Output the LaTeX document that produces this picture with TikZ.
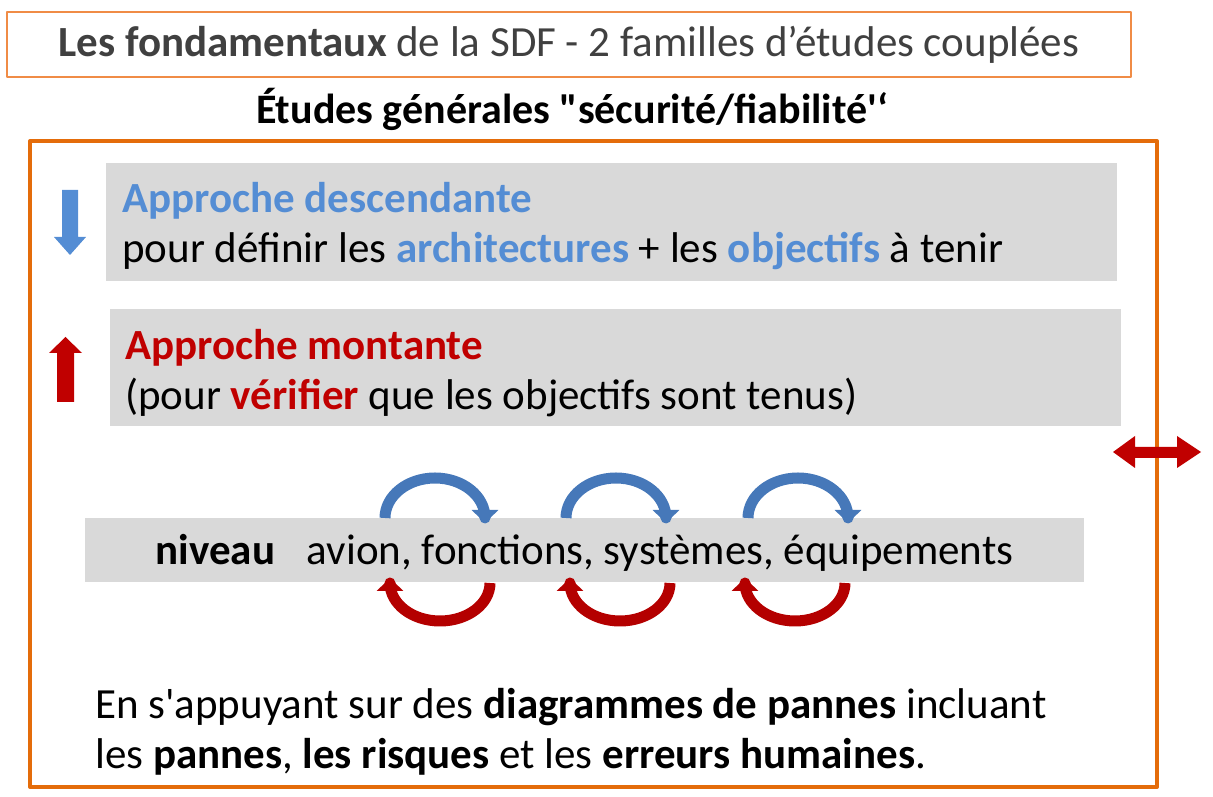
\documentclass[tikz,border=0pt]{standalone}
\usepackage{fontspec}
\setmainfont{Carlito}
\usetikzlibrary{arrows.meta}
\definecolor{cadre}{RGB}{228,108,10}
\definecolor{cadreT}{RGB}{240,140,70}
\definecolor{gris}{RGB}{217,217,217}
\definecolor{bleu}{RGB}{84,141,212}
\definecolor{bleuF}{RGB}{70,120,185}
\definecolor{rouge}{RGB}{192,0,0}
\definecolor{rougeF}{RGB}{180,0,0}
\definecolor{texte}{RGB}{64,64,64}
\tikzset{
	boite/.style={fill=gris, inner sep=0pt},
	txt/.style={anchor=west, align=left, inner sep=0pt, font=\fontsize{43}{50}\selectfont},
	fleche/.style={line width=11pt, -{Triangle[width=26pt,length=13pt]}}
}
\begin{document}
\begin{tikzpicture}[x=1pt,y=1pt,line join=round]
		\useasboundingbox (0,0) rectangle (1213,797);
		%==titre
		\node[draw=cadreT, line width=1.2pt, minimum width=1124pt, minimum height=65pt, text=texte, font=\fontsize{43}{50}\selectfont] (titre) at (569,752.5) {\textbf{Les fondamentaux} de la SDF - 2 familles d’études couplées};
		\node[font=\bfseries\fontsize{42}{48}\selectfont] (sstitre) at (572,688) {Études générales \textquotedbl sécurité/fiabilité\textquotesingle‘};
		%==cadre
		\draw[cadre, line width=4pt] (30,10) rectangle (1157,656);
		\fill[rouge] (1113,345) --(1135,361) --(1135,350) --(1177,350) --(1177,361) --(1201,345) --(1177,329) --(1177,339) --(1135,339) --(1135,329) -- cycle;
		%==approches
		\node[boite, minimum width=1011pt, minimum height=118pt] (desc) at (611.5,575) {};
		\node[txt] (descT) at (122,571) {\textcolor{bleu}{\textbf{Approche descendante}}\\pour définir les \textcolor{bleu}{\textbf{architectures}} + les \textcolor{bleu}{\textbf{objectifs}} à tenir};
		\node[boite, minimum width=1011pt, minimum height=117pt] (mont) at (615.5,429.5) {};
		\node[txt] (montT) at (125,424) {\textcolor{rouge}{\textbf{Approche montante}}\\(pour \textcolor{rouge}{\textbf{vérifier}} que les objectifs sont tenus)};
		\fill[bleu] (62,607) --++(16,0) --++(0,-47) --++(8,0) --++(-16,-18) --++(-16,18) --++(8,0) -- cycle;
		\fill[rouge] (57,395) --++(17,0) --++(0,49) --++(8,0) --++(-16.5,16) --++(-16.5,-16) --++(8,0) -- cycle;
		%==niveaux
		\node[boite, minimum width=999pt, minimum height=64pt] (niv) at (584.5,247) {};
		\node[font=\fontsize{43}{50}\selectfont, inner sep=0pt] (nivT) at (584.5,244) {\textbf{niveau}\hspace{22pt} avion, fonctions, systèmes, équipements};
		\foreach \cb/\cr in {435/440,616/620,798/795}{
			\draw[bleuF, fleche] (\cb-50,279) arc[start angle=180, end angle=0, x radius=50, y radius=40] --++(0,-5);
			\draw[rougeF, fleche] (\cr+50,214) arc[start angle=0, end angle=-180, x radius=50, y radius=38] --++(0,5);
		}
		%==texte bas
		\node[txt] (bas) at (95,65) {En s\textquotesingle appuyant sur des \textbf{diagrammes de pannes} incluant\\les \textbf{pannes}, \textbf{les risques} et les \textbf{erreurs humaines}.};
\end{tikzpicture}
\end{document}
